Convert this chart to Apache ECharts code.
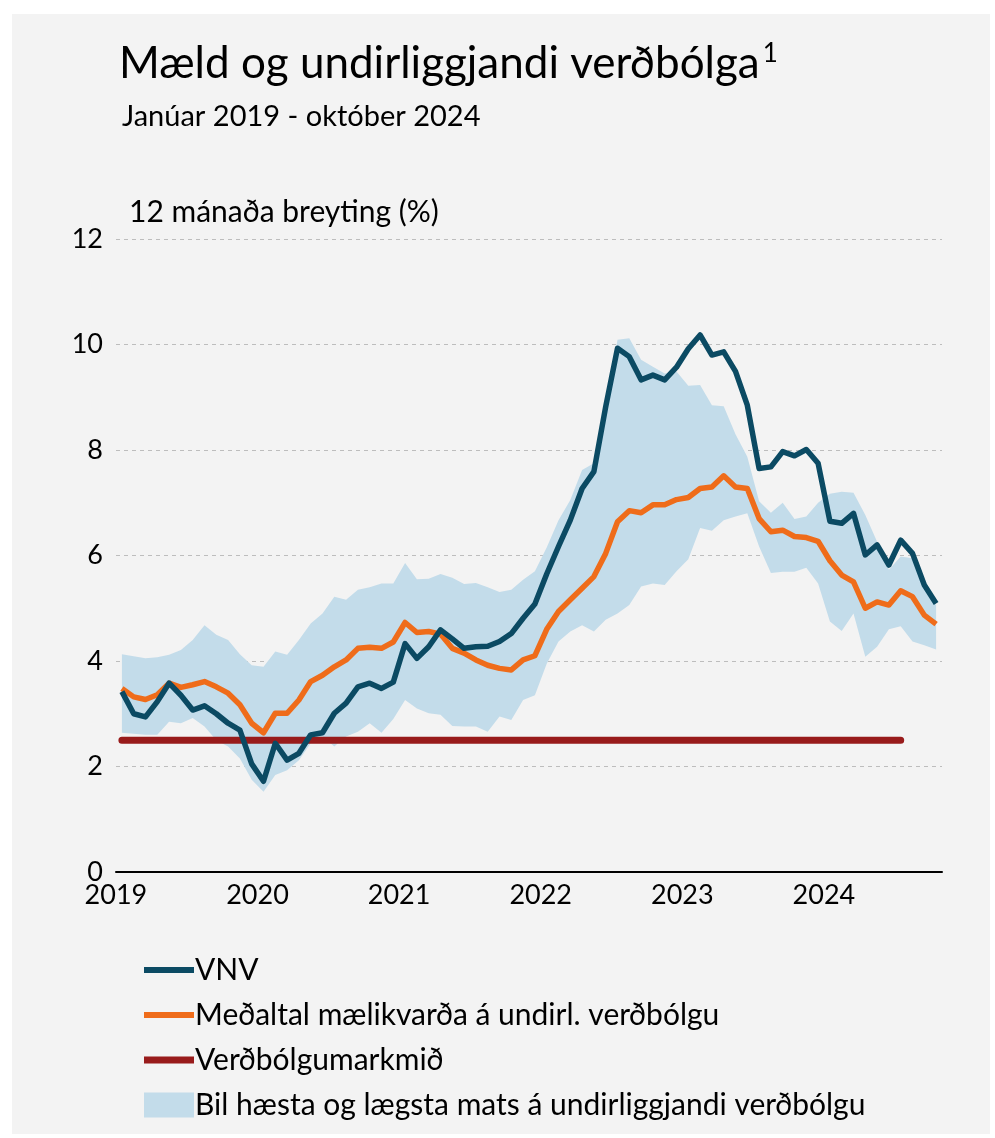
<!DOCTYPE html>
<html>
<head>
<meta charset="utf-8">
<script src="https://cdn.jsdelivr.net/npm/echarts/dist/echarts.min.js"></script>
<style>
    body { margin: 0; background: #ffffff; }
    #panel { position: absolute; left: 12px; top: 14px; width: 978px; height: 1120px; background: #f3f3f3; }
    #chart { position: absolute; left: 0; top: 0; width: 995px; height: 1138px; }
</style>
</head>
<body>
<div id="panel"></div>
<div id="chart"></div>
<script>
// jan 2019 - okt 2024, monthly
const years = ['2019', '2020', '2021', '2022', '2023', '2024'];
const monthCount = 70;

const vnv = [
    3.42, 3.00, 2.94, 3.23, 3.58, 3.35, 3.07, 3.15, 3.00, 2.82, 2.69, 2.05,
    1.72, 2.44, 2.12, 2.25, 2.60, 2.64, 3.01, 3.20, 3.51, 3.58, 3.48, 3.60,
    4.33, 4.05, 4.27, 4.59, 4.42, 4.24, 4.27, 4.28, 4.37, 4.52, 4.81, 5.08,
    5.65, 6.17, 6.67, 7.27, 7.59, 8.82, 9.93, 9.77, 9.33, 9.42, 9.33, 9.57,
    9.92, 10.18, 9.80, 9.86, 9.49, 8.85, 7.65, 7.68, 7.97, 7.89, 8.01, 7.75,
    6.65, 6.61, 6.80, 6.01, 6.20, 5.82, 6.29, 6.04, 5.44, 5.09
];
const coreAvg = [
    3.48, 3.32, 3.27, 3.36, 3.58, 3.50, 3.55, 3.61, 3.51, 3.39, 3.17, 2.82,
    2.64, 3.01, 3.01, 3.26, 3.61, 3.73, 3.89, 4.02, 4.24, 4.26, 4.24, 4.36,
    4.73, 4.54, 4.56, 4.51, 4.24, 4.15, 4.02, 3.92, 3.86, 3.83, 4.02, 4.10,
    4.60, 4.94, 5.16, 5.38, 5.60, 6.04, 6.64, 6.85, 6.81, 6.96, 6.96, 7.06,
    7.10, 7.27, 7.30, 7.51, 7.30, 7.27, 6.70, 6.45, 6.48, 6.36, 6.34, 6.27,
    5.90, 5.63, 5.50, 5.00, 5.12, 5.06, 5.33, 5.22, 4.87, 4.70
];
const bandHigh = [
    4.13, 4.09, 4.05, 4.07, 4.12, 4.21, 4.40, 4.68, 4.50, 4.40, 4.13, 3.92,
    3.89, 4.18, 4.12, 4.40, 4.71, 4.90, 5.22, 5.16, 5.35, 5.40, 5.47, 5.47,
    5.86, 5.55, 5.56, 5.65, 5.58, 5.46, 5.48, 5.40, 5.31, 5.35, 5.54, 5.70,
    6.15, 6.67, 7.05, 7.62, 7.75, 8.85, 10.09, 10.12, 9.71, 9.58, 9.45, 9.49,
    9.22, 9.23, 8.85, 8.83, 8.30, 7.87, 7.03, 6.81, 7.00, 6.69, 6.74, 7.00,
    7.17, 7.21, 7.19, 6.77, 6.26, 5.73, 5.98, 5.95, 5.41, 5.06
];
const bandLow = [
    2.64, 2.62, 2.60, 2.60, 2.85, 2.82, 2.92, 2.76, 2.50, 2.38, 2.15, 1.75,
    1.52, 1.84, 1.93, 2.12, 2.44, 2.57, 2.38, 2.57, 2.66, 2.82, 2.64, 2.90,
    3.26, 3.10, 3.01, 2.98, 2.77, 2.76, 2.76, 2.66, 2.95, 2.88, 3.26, 3.35,
    3.95, 4.37, 4.56, 4.68, 4.56, 4.78, 4.90, 5.06, 5.41, 5.47, 5.44, 5.70,
    5.93, 6.52, 6.47, 6.67, 6.74, 6.80, 6.17, 5.67, 5.69, 5.69, 5.77, 5.47,
    4.75, 4.57, 4.90, 4.08, 4.27, 4.60, 4.66, 4.37, 4.30, 4.22
];
// markmið 2,5% til júlí 2024
const targetLevel = 2.5;
const targetMonths = 67;

const yTicks = [0, 2, 4, 6, 8, 10, 12];

const names = {
    vnv: 'VNV',
    core: 'Meðaltal mælikvarða á undirl. verðbólgu',
    target: 'Verðbólgumarkmið',
    band: 'Bil hæsta og lægsta mats á undirliggjandi verðbólgu'
};

let months = [];
for (let i = 0; i < monthCount; i++) {
    months.push(years[Math.floor(i / 12)] + '-' + String(i % 12 + 1).padStart(2, '0'));
}
let target = [];
for (let i = 0; i < targetMonths; i++) {
    target.push(targetLevel);
}
let bandRange = bandHigh.map((v, i) => +(v - bandLow[i]).toFixed(2));

const font = 'Lato';
const yearTick = (idx) => idx % 12 === 0;
// flat bar used as legend icon for the lines
const lineIcon = (h) => 'path://M0,0L50,0L50,' + h + 'L0,' + h + 'Z';

let myChart = echarts.init(document.getElementById('chart'));
const opts = {
    animation: false,
    textStyle: { fontFamily: font, color: '#000' },
    title: [
        {
            text: 'Mæld og undirliggjandi verðbólga{sup|1}',
            left: 114,
            top: 36,
            textStyle: {
                fontFamily: font,
                fontSize: 44,
                fontWeight: 'normal',
                color: '#000',
                rich: {
                    sup: { fontFamily: font, fontSize: 26, verticalAlign: 'top', padding: [0, 0, 20, 3], color: '#000' }
                }
            }
        },
        {
            text: 'Janúar 2019 - október 2024',
            left: 117,
            top: 97,
            textStyle: { fontFamily: font, fontSize: 29, fontWeight: 'normal', color: '#000' }
        },
        {
            text: '12 mánaða breyting (%)',
            left: 124,
            top: 192,
            textStyle: { fontFamily: font, fontSize: 30, fontWeight: 'normal', color: '#000' }
        }
    ],
    legend: {
        orient: 'vertical',
        left: 144,
        top: 955,
        padding: 0,
        itemWidth: 50,
        itemHeight: 25,
        itemGap: 15,
        textStyle: { fontFamily: font, fontSize: 30, color: '#000', padding: [0, 0, 0, -4] },
        data: [
            { name: names.vnv, icon: lineIcon(6) },
            { name: names.core, icon: lineIcon(6) },
            { name: names.target, icon: lineIcon(7) },
            { name: names.band, icon: 'rect' }
        ]
    },
    grid: {
        left: 116,
        right: 53,
        top: 239,
        bottom: 266
    },
    xAxis: {
        type: 'category',
        data: months,
        boundaryGap: true,
        axisLine: { lineStyle: { color: '#000', width: 2 } },
        axisTick: { interval: yearTick, length: 7, lineStyle: { color: '#000', width: 2 } },
        axisLabel: {
            interval: yearTick,
            formatter: (v) => v.slice(0, 4),
            fontFamily: font,
            fontSize: 27,
            color: '#000',
            margin: 10,
            padding: [0, 12, 0, 0]
        },
        splitLine: { show: false }
    },
    yAxis: {
        type: 'value',
        min: yTicks[0],
        max: yTicks[yTicks.length - 1],
        interval: 2,
        axisLine: { show: false },
        axisTick: { show: false },
        axisLabel: { fontFamily: font, fontSize: 27, color: '#000', margin: 13 },
        splitLine: {
            lineStyle: { color: '#bdbdbd', width: 1, type: [4, 4] }
        }
    },
    series: [
        {
            name: 'band-low',
            type: 'line',
            data: bandLow,
            stack: 'band',
            symbol: 'none',
            silent: true,
            lineStyle: { opacity: 0 },
            z: 1
        },
        {
            name: names.band,
            type: 'line',
            data: bandRange,
            stack: 'band',
            symbol: 'none',
            silent: true,
            itemStyle: { color: '#c3dcea' },
            lineStyle: { opacity: 0 },
            areaStyle: { color: '#c3dcea', opacity: 1 },
            z: 1
        },
        {
            name: names.target,
            type: 'line',
            data: target,
            symbol: 'none',
            itemStyle: { color: '#981b1b' },
            lineStyle: { color: '#981b1b', width: 7, cap: 'round' },
            z: 2
        },
        {
            name: names.core,
            type: 'line',
            data: coreAvg,
            symbol: 'none',
            itemStyle: { color: '#ef6c1a' },
            lineStyle: { color: '#ef6c1a', width: 5.5, join: 'round' },
            z: 3
        },
        {
            name: names.vnv,
            type: 'line',
            data: vnv,
            symbol: 'none',
            itemStyle: { color: '#0b4a63' },
            lineStyle: { color: '#0b4a63', width: 5.5, join: 'round' },
            z: 4
        }
    ]
};
myChart.setOption(opts);
</script>
</body>
</html>
